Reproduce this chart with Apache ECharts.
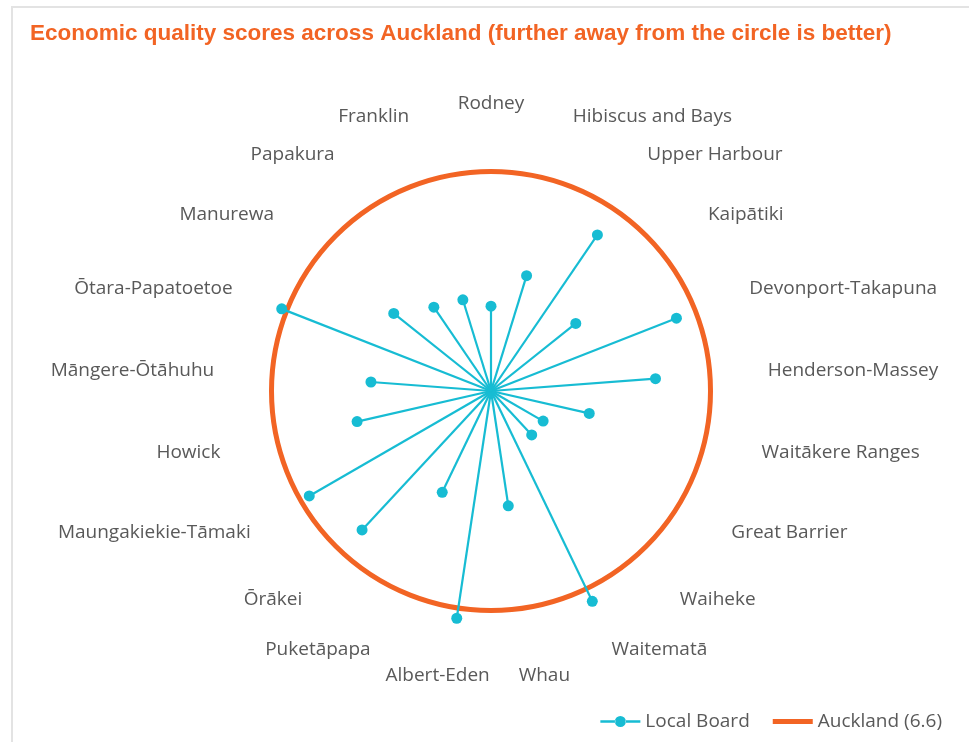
<!DOCTYPE html>
<html><head><meta charset="utf-8">
<script src="https://cdn.jsdelivr.net/npm/echarts@6/dist/echarts.min.js"></script>
<style>
html,body{margin:0;padding:0;background:#fff;overflow:hidden;}
#frame{position:absolute;left:11px;top:6px;width:980px;height:760px;border-left:2px solid #e3e3e3;border-top:2px solid #e3e3e3;}
#chart{position:absolute;left:0;top:0;width:969px;height:742px;}
</style></head><body>
<div id="frame"></div>
<div id="chart"></div>
<script>
const titleText = 'Economic quality scores across Auckland (further away from the circle is better)';
const boards = ['Rodney','Hibiscus and Bays','Upper Harbour','Kaipātiki','Devonport-Takapuna','Henderson-Massey','Waitākere Ranges','Great Barrier','Waiheke','Waitematā','Whau','Albert-Eden','Puketāpapa','Ōrākei','Maungakiekie-Tāmaki','Howick','Māngere-Ōtāhuhu','Ōtara-Papatoetoe','Manurewa','Papakura','Franklin'];
const scores = [2.55,3.63,5.68,3.26,5.99,4.96,3.03,1.81,1.80,7.02,3.49,6.91,3.38,5.70,6.31,4.13,3.62,6.76,3.74,3.05,2.87];
const aucklandScore = 6.6;
const seriesNames = ['Local Board','Auckland (6.6)'];

const TEAL = '#17BCD3';
const ORANGE = '#F26424';
const GREY = '#595959';
const LABEL_FONT = 'Open Sans, Liberation Sans, Arial, sans-serif';
const POLAR_R = 219.5;
const LABEL_MARGIN = 58;

// label boxes: height shrinks toward the sides so labels sit next to the ring;
// near-vertical (centred) labels are pushed slightly outward sideways
const angleCategories = boards.map((b, i) => {
  const a = i * 2 * Math.PI / boards.length;
  const c = Math.cos(a), s = Math.sin(a);
  const style = { lineHeight: Math.max(2, 20 * c * c) };
  if (Math.abs(s) > 0.01 && Math.abs(s) * (POLAR_R + LABEL_MARGIN) / POLAR_R < 0.3) {
    style.padding = s > 0 ? [0, 0, 0, 24] : [0, 24, 0, 0];
  }
  return { value: b, textStyle: style };
});

const chart = echarts.init(document.getElementById('chart'), null, { renderer: 'canvas' });
chart.setOption({
  animation: false,
  backgroundColor: 'transparent',
  title: {
    text: titleText, left: 25, top: 17,
    textStyle: { fontFamily: 'Liberation Sans, Arial, sans-serif', fontWeight: 'bold', fontSize: 22.5, color: ORANGE }
  },
  legend: {
    right: 22, bottom: 6, itemWidth: 40, itemHeight: 14, itemGap: 23,
    textStyle: { fontFamily: LABEL_FONT, fontSize: 19, color: GREY },
    data: [
      { name: seriesNames[0], icon: 'path://M0,5.8H15V8.2H0Z M25,5.8H40V8.2H25Z M14.5,7A5.5,5.5 0 1,0 25.5,7A5.5,5.5 0 1,0 14.5,7Z', itemStyle: { color: TEAL } },
      { name: seriesNames[1], icon: 'path://M0,0H40V5H0Z', itemStyle: { color: ORANGE } }
    ]
  },
  polar: { center: [491, 391], radius: POLAR_R },
  angleAxis: {
    type: 'category', data: angleCategories, startAngle: 90, clockwise: true, boundaryGap: false,
    axisLine: { show: false }, axisTick: { show: false }, splitLine: { show: false },
    axisLabel: { interval: 0, margin: LABEL_MARGIN, fontFamily: LABEL_FONT, fontSize: 19, color: GREY }
  },
  radiusAxis: {
    min: 0, max: 6.6,
    axisLine: { show: false }, axisTick: { show: false }, axisLabel: { show: false }, splitLine: { show: false }
  },
  series: [
    {
      type: 'custom', name: seriesNames[1], coordinateSystem: 'polar', z: 1,
      itemStyle: { color: ORANGE },
      data: [[aucklandScore, 0]],
      renderItem: function (params, api) {
        const cs = params.coordSys;
        const p = api.coord([api.value(0), api.value(1)]);
        const r = Math.hypot(p[0] - cs.cx, p[1] - cs.cy);
        return { type: 'circle', shape: { cx: cs.cx, cy: cs.cy, r: r }, style: { fill: 'none', stroke: ORANGE, lineWidth: 5 } };
      }
    },
    {
      type: 'custom', name: seriesNames[0], coordinateSystem: 'polar', z: 2,
      itemStyle: { color: TEAL },
      data: scores.map((v, i) => [v, i]),
      renderItem: function (params, api) {
        const cs = params.coordSys;
        const p = api.coord([api.value(0), api.value(1)]);
        return {
          type: 'group',
          children: [
            { type: 'line', shape: { x1: cs.cx, y1: cs.cy, x2: p[0], y2: p[1] }, style: { stroke: TEAL, lineWidth: 2.2 } },
            { type: 'circle', shape: { cx: p[0], cy: p[1], r: 5.5 }, style: { fill: TEAL } }
          ]
        };
      }
    }
  ]
});
</script>
</body></html>
